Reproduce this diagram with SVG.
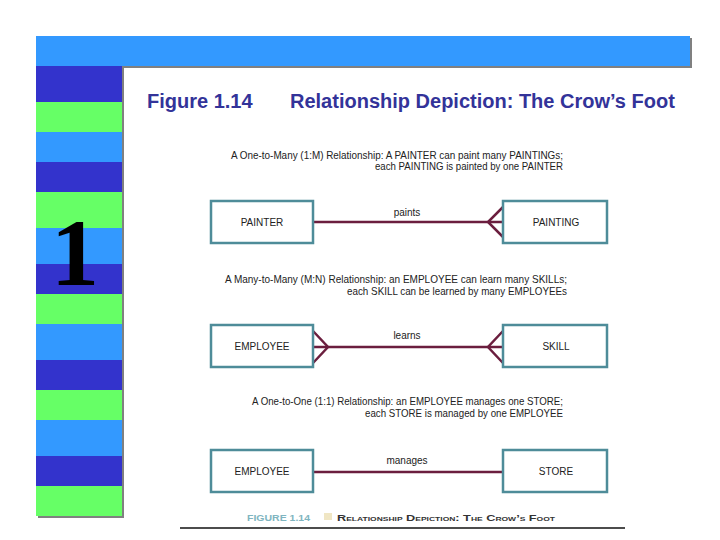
<svg xmlns="http://www.w3.org/2000/svg" width="720" height="540" viewBox="0 0 720 540">
<style>
.shadow{fill:#808080}
.lb{fill:#3399FF}
.db{fill:#3333CC}
.gr{fill:#66FF66}
.title{font-family:"Liberation Sans",Arial,sans-serif;font-weight:bold;font-size:20px;fill:#333399}
.desc{font-family:"Liberation Sans",Arial,sans-serif;font-size:10.5px;fill:#222}
.ent rect{fill:#fff;stroke:#4E8C99;stroke-width:2.5}
.ent text{font-family:"Liberation Sans",Arial,sans-serif;font-size:10px;fill:#222;text-anchor:middle}
.rel{font-family:"Liberation Sans",Arial,sans-serif;font-size:10px;fill:#222;text-anchor:middle}
.conn{stroke:#6B1E3E;stroke-width:2.5;fill:none}
</style>
<rect width="720" height="540" fill="#fff"/>
<!-- top bar with shadow -->
<rect class="shadow" x="38" y="38" width="654" height="30"/>
<rect class="lb" x="36" y="36" width="654" height="30"/>
<!-- left column with shadow -->
<rect class="shadow" x="38" y="66" width="86" height="452"/>
<rect class="db" x="36" y="66" width="86" height="36"/>
<rect class="gr" x="36" y="102" width="86" height="30"/>
<rect class="lb" x="36" y="132" width="86" height="30"/>
<rect class="db" x="36" y="162" width="86" height="30"/>
<rect class="gr" x="36" y="192" width="86" height="36"/>
<rect class="lb" x="36" y="228" width="86" height="36"/>
<rect class="db" x="36" y="264" width="86" height="30"/>
<rect class="gr" x="36" y="294" width="86" height="30"/>
<rect class="lb" x="36" y="324" width="86" height="36"/>
<rect class="db" x="36" y="360" width="86" height="30"/>
<rect class="gr" x="36" y="390" width="86" height="30"/>
<rect class="lb" x="36" y="420" width="86" height="36"/>
<rect class="db" x="36" y="456" width="86" height="30"/>
<rect class="gr" x="36" y="486" width="86" height="30"/>
<text x="75" y="285" text-anchor="middle" font-family="'Liberation Serif','Times New Roman',serif" font-weight="bold" font-size="96" fill="#000">1</text>
<!-- title -->
<text class="title" x="147" y="108">Figure 1.14</text>
<text class="title" x="290" y="108">Relationship Depiction: The Crow’s Foot</text>
<!-- descriptions -->
<text class="desc" x="231" y="159" textLength="332" lengthAdjust="spacingAndGlyphs">A One-to-Many (1:M) Relationship: A PAINTER can paint many PAINTINGs;</text>
<text class="desc" x="375" y="170" textLength="188" lengthAdjust="spacingAndGlyphs">each PAINTING is painted by one PAINTER</text>
<text class="desc" x="225" y="283" textLength="342" lengthAdjust="spacingAndGlyphs">A Many-to-Many (M:N) Relationship: an EMPLOYEE can learn many SKILLs;</text>
<text class="desc" x="347" y="295" textLength="220" lengthAdjust="spacingAndGlyphs">each SKILL can be learned by many EMPLOYEEs</text>
<text class="desc" x="252" y="405" textLength="311" lengthAdjust="spacingAndGlyphs">A One-to-One (1:1) Relationship: an EMPLOYEE manages one STORE;</text>
<text class="desc" x="365" y="417" textLength="198" lengthAdjust="spacingAndGlyphs">each STORE is managed by one EMPLOYEE</text>
<!-- connectors -->
<g id="connectors">
  <g id="paints">
    <line class="conn" x1="313" y1="222" x2="503" y2="222"/>
    <polyline class="conn" points="503,207 488,222 503,237"/>
    <text class="rel" x="407" y="216">paints</text>
  </g>
  <g id="learns">
    <line class="conn" x1="313" y1="347" x2="503" y2="347"/>
    <polyline class="conn" points="313,331 328,347 313,363"/>
    <polyline class="conn" points="503,331 488,347 503,363"/>
    <text class="rel" x="407" y="339">learns</text>
  </g>
  <g id="manages">
    <line class="conn" x1="313" y1="472" x2="503" y2="472"/>
    <text class="rel" x="407" y="464">manages</text>
  </g>
</g>
<!-- nodes -->
<g id="painter" class="ent"><rect x="211" y="201" width="102" height="42"/><text x="262" y="226">PAINTER</text></g>
<g id="painting" class="ent"><rect x="503" y="201" width="104" height="42"/><text x="556" y="226">PAINTING</text></g>
<g id="employee-1" class="ent"><rect x="211" y="325" width="102" height="42"/><text x="262" y="350">EMPLOYEE</text></g>
<g id="skill" class="ent"><rect x="503" y="325" width="104" height="42"/><text x="556" y="350">SKILL</text></g>
<g id="employee-2" class="ent"><rect x="211" y="450" width="102" height="42"/><text x="262" y="475">EMPLOYEE</text></g>
<g id="store" class="ent"><rect x="503" y="450" width="104" height="42"/><text x="556" y="475">STORE</text></g>
<!-- caption -->
<text x="247" y="521" font-family="'Liberation Sans',Arial,sans-serif" font-size="9" font-weight="bold" fill="#7FB5C0" textLength="63" lengthAdjust="spacingAndGlyphs">FIGURE 1.14</text>
<rect x="324" y="513" width="8" height="7" fill="#F0E6C4"/>
<text x="337" y="521" font-family="'Liberation Sans',Arial,sans-serif" font-size="9" font-weight="bold" fill="#333" font-variant="small-caps" textLength="218" lengthAdjust="spacingAndGlyphs">Relationship Depiction: The Crow’s Foot</text>
<line x1="180" y1="528" x2="625" y2="528" stroke="#111" stroke-width="1.5"/>
</svg>
